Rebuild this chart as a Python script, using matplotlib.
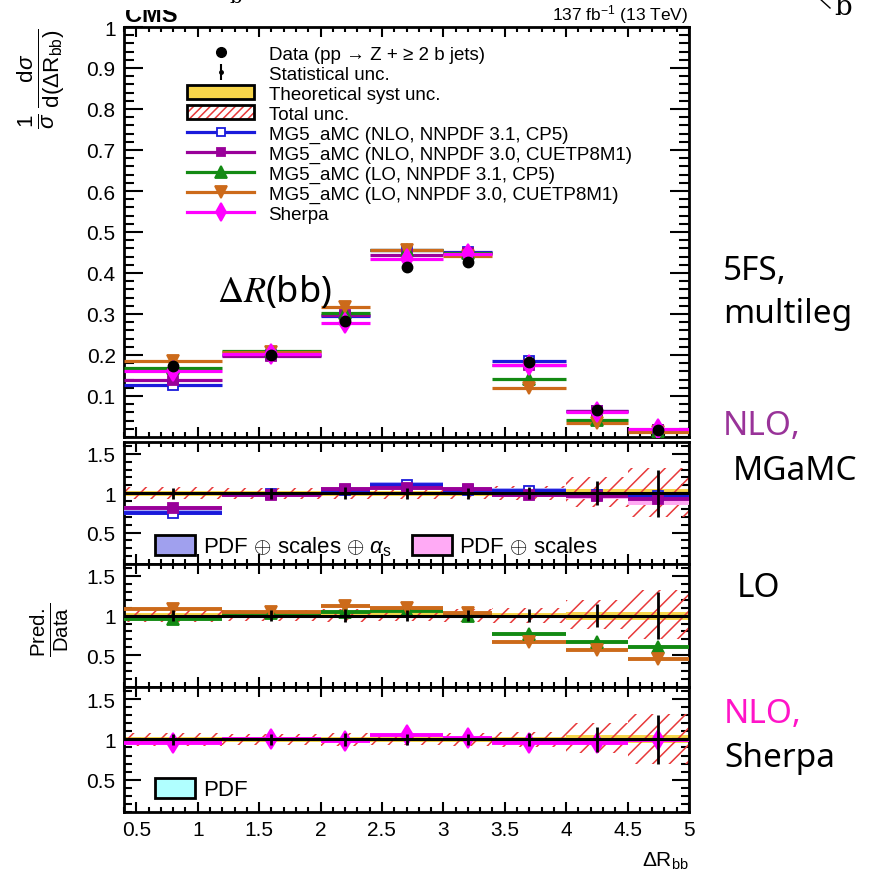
import numpy as np
import matplotlib
matplotlib.use("Agg")
import matplotlib.pyplot as plt
from matplotlib.lines import Line2D
from matplotlib.patches import Patch
from matplotlib.ticker import MultipleLocator, FixedLocator, FuncFormatter, NullFormatter
from matplotlib.transforms import Bbox

plt.rcParams['font.family'] = ['Liberation Sans', 'DejaVu Sans']
plt.rcParams['mathtext.fontset'] = 'custom'
plt.rcParams['mathtext.rm'] = 'Liberation Sans'
plt.rcParams['mathtext.it'] = 'Liberation Sans:italic'
plt.rcParams['mathtext.bf'] = 'Liberation Sans:bold'
plt.rcParams['mathtext.sf'] = 'Liberation Sans'
plt.rcParams['hatch.linewidth'] = 1.1

# ---------------- data ----------------
bin_edges = [0.4, 1.2, 2.0, 2.4, 3.0, 3.4, 4.0, 4.5, 5.0]

data_xsec = [0.172, 0.200, 0.284, 0.415, 0.428, 0.182, 0.066, 0.018]
nlo_cp5_xsec = [0.128, 0.199, 0.294, 0.457, 0.452, 0.185, 0.064, 0.017]
nlo_cuetp_xsec = [0.139, 0.197, 0.297, 0.444, 0.450, 0.176, 0.064, 0.018]
lo_cp5_xsec = [0.168, 0.209, 0.302, 0.455, 0.448, 0.141, 0.042, 0.015]
lo_cuetp_xsec = [0.186, 0.207, 0.316, 0.457, 0.442, 0.119, 0.034, 0.012]
sherpa_xsec = [0.162, 0.202, 0.277, 0.434, 0.447, 0.176, 0.062, 0.0195]

nlo_cp5_ratio = [0.75, 0.99, 1.04, 1.11, 1.04, 1.03, 0.98, 0.96]
nlo_cuetp_ratio = [0.81, 0.98, 1.05, 1.07, 1.05, 0.98, 0.97, 0.92]
lo_cp5_ratio = [0.96, 1.03, 1.05, 1.06, 1.00, 0.77, 0.67, 0.60]
lo_cuetp_ratio = [1.08, 1.04, 1.12, 1.09, 1.03, 0.67, 0.56, 0.45]
sherpa_ratio = [0.95, 1.01, 0.98, 1.05, 1.02, 0.95, 0.95, 0.99]

nlo_cp5_band = [0.03, 0.03, 0.03, 0.03, 0.03, 0.03, 0.03, 0.04]
nlo_cuetp_band = [0.03, 0.03, 0.03, 0.03, 0.03, 0.03, 0.04, 0.07]
sherpa_pdf_band = [0.01, 0.01, 0.01, 0.01, 0.01, 0.01, 0.01, 0.01]

stat_up = [0.07, 0.07, 0.08, 0.07, 0.07, 0.08, 0.15, 0.30]
stat_dn = [0.07, 0.07, 0.08, 0.07, 0.07, 0.08, 0.15, 0.30]
total_up = [0.08, 0.07, 0.08, 0.07, 0.08, 0.09, 0.20, 0.32]
total_dn = [0.08, 0.07, 0.08, 0.07, 0.08, 0.09, 0.17, 0.30]
theory_unc = [0.03, 0.03, 0.03, 0.03, 0.03, 0.03, 0.05, 0.05]

labels = ["MG5_aMC (NLO, NNPDF 3.1, CP5)",
          "MG5_aMC (NLO, NNPDF 3.0, CUETP8M1)",
          "MG5_aMC (LO, NNPDF 3.1, CP5)",
          "MG5_aMC (LO, NNPDF 3.0, CUETP8M1)",
          "Sherpa"]

# ---------------- styles ----------------
C_BLUE = '#1a1adb'
C_PURP = '#990099'
C_GREEN = '#138a13'
C_ORANGE = '#cc6a1a'
C_MAG = '#ff00ff'
C_HATCH = '#e8393a'
C_YEL = '#f7d54a'

styles = [
    dict(color=C_BLUE, marker='s', mfc='white', ms=7),
    dict(color=C_PURP, marker='s', mfc=C_PURP, ms=7),
    dict(color=C_GREEN, marker='^', mfc=C_GREEN, ms=9),
    dict(color=C_ORANGE, marker='v', mfc=C_ORANGE, ms=9),
    dict(color=C_MAG, marker='d', mfc=C_MAG, ms=10),
]

W = H = 879
def fx(px):
    return px / W
def fy(py):
    return 1 - py / H

fig = plt.figure(figsize=(8.79, 8.79), dpi=100)

left = fx(124)
width = fx(689) - fx(124)
ax0 = fig.add_axes([left, fy(438), width, fy(28) - fy(438)])
ax1 = fig.add_axes([left, fy(565), width, (565 - 443) / H])
ax2 = fig.add_axes([left, fy(688), width, (688 - 565) / H])
ax3 = fig.add_axes([left, fy(813), width, (813 - 688) / H])

lo = np.array(bin_edges[:-1])
hi = np.array(bin_edges[1:])
ctr = (lo + hi) / 2
wid = hi - lo

# ---------------- main panel ----------------
main_vals = [nlo_cp5_xsec, nlo_cuetp_xsec, lo_cp5_xsec, lo_cuetp_xsec, sherpa_xsec]
for vals, st in zip(main_vals, styles):
    ax0.hlines(vals, lo, hi, color=st['color'], lw=2.3, zorder=3)
    ax0.plot(ctr, vals, ls='none', marker=st['marker'], color=st['color'],
             mfc=st['mfc'], mec=st['color'], ms=st['ms'], mew=1.3, zorder=4)
dat = np.array(data_xsec)
ax0.errorbar(ctr, dat, yerr=[dat * np.array(stat_dn) * 0.3, dat * np.array(stat_up) * 0.3],
             fmt='o', color='k', ms=7.5, elinewidth=1.5, capsize=0, zorder=6)

ax0.set_xlim(0.4, 5.0)
ax0.set_ylim(0.0, 1.0)
ax0.yaxis.set_major_locator(FixedLocator(np.round(np.arange(0.1, 1.01, 0.1), 2)))
ax0.yaxis.set_minor_locator(MultipleLocator(0.02))
fmt = FuncFormatter(lambda v, p: '%g' % v)
ax0.yaxis.set_major_formatter(fmt)
ax0.xaxis.set_major_formatter(NullFormatter())

# legend
h_data = Line2D([], [], ls='none', marker='o', color='k', ms=7)
h_stat = (Line2D([], [], ls='none', marker='|', color='k', ms=11, mew=1.5),
          Line2D([], [], ls='none', marker='o', color='k', ms=2.5))
h_theo = Patch(facecolor=C_YEL, edgecolor='k', lw=2)
h_tot = (Patch(facecolor='white', edgecolor=C_HATCH, hatch='////', lw=0),
         Patch(facecolor='none', edgecolor='k', lw=2))
h_models = [Line2D([], [], color=st['color'], lw=2.3, marker=st['marker'],
                   mfc=st['mfc'], mec=st['color'], ms=st['ms'] * 0.9, mew=1.3)
            for st in styles]
handles = [h_data, h_stat, h_theo, h_tot] + h_models
leg_labels = ["Data (pp \u2192 Z + \u2265 2 b jets)", "Statistical unc.",
              "Theoretical syst unc.", "Total unc."] + labels
leg = ax0.legend(handles, leg_labels, loc='upper left',
                 bbox_to_anchor=((187 - 124) / 565, 1 - (46 - 28) / 410),
                 frameon=False, fontsize=13.5, borderpad=0, borderaxespad=0,
                 handlelength=3.6, handleheight=0.8, handletextpad=0.75,
                 labelspacing=0.12)

# ---------------- ratio panels ----------------
def ratio_base(ax):
    ax.bar(ctr, 2 * np.array(theory_unc), bottom=1 - np.array(theory_unc), width=wid,
           color=C_YEL, lw=0, zorder=1)
    ax.bar(ctr, np.array(total_up) + np.array(total_dn), bottom=1 - np.array(total_dn),
           width=wid, color='none', edgecolor=C_HATCH, hatch='//', lw=0, zorder=2)

def ratio_data(ax):
    ax.axhline(1.0, color='k', lw=2.2, zorder=7)
    ax.errorbar(ctr, np.ones_like(ctr), yerr=[stat_dn, stat_up], fmt='none',
                ecolor='k', elinewidth=2.0, capsize=0, zorder=8)

def ratio_model(ax, vals, st, band=None, band_color=None):
    vals = np.array(vals)
    if band is not None:
        b = np.array(band)
        ax.bar(ctr, 2 * b, bottom=vals - b, width=wid, color=band_color, lw=0, zorder=3)
    ax.hlines(vals, lo, hi, color=st['color'], lw=2.8, zorder=5)
    ax.plot(ctr, vals, ls='none', marker=st['marker'], color=st['color'],
            mfc=st['mfc'], mec=st['color'], ms=st['ms'], mew=1.3, zorder=6)

# panel 1: NLO MG5_aMC
ratio_base(ax1)
ratio_model(ax1, nlo_cp5_ratio, styles[0], nlo_cp5_band, '#a8a8f5')
ratio_model(ax1, nlo_cuetp_ratio, styles[1], nlo_cuetp_band, '#ffaaf2')
ratio_data(ax1)
bl = ax1.legend([Patch(facecolor='#a0a0ee', edgecolor='k', lw=2),
                 Patch(facecolor='#ffaaf5', edgecolor='k', lw=2)],
                ["PDF $\\oplus$ scales $\\oplus$ $\\alpha_{\\mathrm{s}}$", "PDF $\\oplus$ scales"],
                ncol=2, loc='center left', bbox_to_anchor=((155 - 124) / 565, (565 - 547) / 122),
                frameon=False, fontsize=16, borderpad=0, borderaxespad=0,
                handlelength=1.8, handleheight=1.0, handletextpad=0.35, columnspacing=0.9)

# panel 2: LO MG5_aMC
ratio_base(ax2)
ratio_model(ax2, lo_cp5_ratio, styles[2])
ratio_model(ax2, lo_cuetp_ratio, styles[3])
ratio_data(ax2)

# panel 3: Sherpa
ratio_base(ax3)
ratio_model(ax3, sherpa_ratio, styles[4], sherpa_pdf_band, '#b0ffff')
ratio_data(ax3)
ax3.legend([Patch(facecolor='#b0ffff', edgecolor='k', lw=2)], ["PDF"],
           loc='center left', bbox_to_anchor=((155 - 124) / 565, (813 - 790) / 125),
           frameon=False, fontsize=16, borderpad=0, borderaxespad=0,
           handlelength=1.8, handleheight=1.0, handletextpad=0.35)

for ax in (ax1, ax2, ax3):
    ax.set_xlim(0.4, 5.0)
    ax.set_ylim(0.1, 1.65)
    ax.yaxis.set_major_locator(FixedLocator([0.5, 1.0, 1.5]))
    ax.yaxis.set_minor_locator(MultipleLocator(0.1))
    ax.yaxis.set_major_formatter(fmt)

for ax in (ax0, ax1, ax2, ax3):
    ax.xaxis.set_major_locator(MultipleLocator(0.5))
    ax.xaxis.set_minor_locator(MultipleLocator(0.1))
    for s in ax.spines.values():
        s.set_linewidth(2.0)
    ax.tick_params(which='both', direction='in', top=True, right=True, width=1.5,
                   labelsize=15, pad=6)
    ax.tick_params(axis='x', which='major', length=7)
    ax.tick_params(axis='x', which='minor', length=3.5)
    if ax is ax0:
        ax.tick_params(axis='y', which='major', length=14)
        ax.tick_params(axis='y', which='minor', length=7)
    else:
        ax.tick_params(axis='y', which='major', length=12)
        ax.tick_params(axis='y', which='minor', length=6)
for ax in (ax1, ax2):
    ax.xaxis.set_major_formatter(NullFormatter())
ax3.xaxis.set_major_formatter(fmt)

# ---------------- texts ----------------
fig.text(fx(41), fy(79),
         r"$\frac{1}{\sigma}\,\frac{\mathrm{d}\sigma}{\mathrm{d}(\Delta\mathrm{R}_{\mathrm{bb}})}$",
         rotation=90, ha='center', va='center', fontsize=23)
fig.text(fx(50), fy(630), r"$\frac{\mathrm{Pred.}}{\mathrm{Data}}$",
         rotation=90, ha='center', va='center', fontsize=21)
fig.text(fx(689), fy(867), r"$\Delta\mathrm{R}_{\mathrm{bb}}$", ha='right', va='baseline', fontsize=15)
fig.text(fx(688), fy(20), r"137 fb$^{-1}$ (13 TeV)", ha='right', va='baseline', fontsize=12.5)

t_cms = fig.text(fx(125), fy(22), "CMS", weight='bold', fontsize=17, ha='left', va='baseline')
t_cms.set_clip_box(Bbox([[0, 0], [W, H - 11]]))
t_cms.set_clip_on(True)

fig.text(fx(229), fy(3), "b", family='DejaVu Serif', fontsize=14, va='baseline')
fig.text(fx(834), fy(15), "b", family='DejaVu Serif', fontsize=20, va='baseline')
fig.add_artist(Line2D([fx(819), fx(830)], [fy(-1), fy(9)], color='k', lw=1.0))

ann = dict(family='Noto Sans', fontsize=24, va='baseline', ha='left')
fig.text(fx(723), fy(280), "5FS,", **ann)
fig.text(fx(723), fy(323), "multileg", **ann)
fig.text(fx(723), fy(435), "NLO,", color='#993399', **ann)
fig.text(fx(733), fy(480), "MGaMC", **ann)
fig.text(fx(737), fy(597), "LO", **ann)
fig.text(fx(724), fy(723), "NLO,", color='#ff14c8', **ann)
fig.text(fx(724), fy(767), "Sherpa", **ann)

fig.text(fx(217), fy(302), r"$\Delta R$(bb)", family='Noto Sans', math_fontfamily='stix',
         fontsize=26, va='baseline', ha='left')

fig.savefig("out.png", dpi=100)
